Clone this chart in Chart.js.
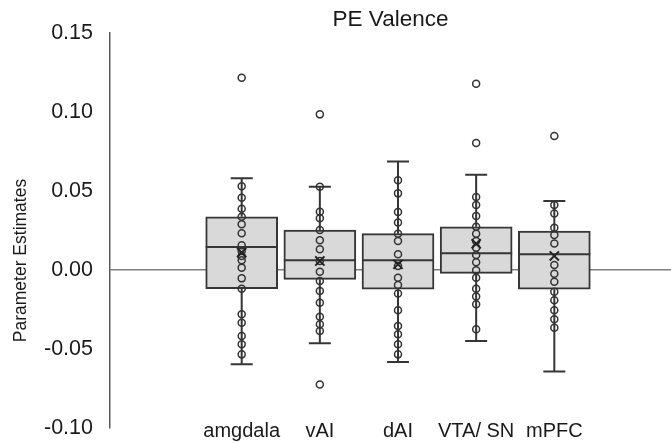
<!DOCTYPE html>
<html>
<head>
<meta charset="utf-8">
<script src="https://cdn.jsdelivr.net/npm/chart.js@4/dist/chart.umd.min.js"></script>
<style>
  html, body { margin: 0; padding: 0; background: #fff; overflow: hidden; }
  canvas { display: block; }
</style>
</head>
<body>
<canvas id="pe" width="671" height="443"></canvas>
<script>
const regions = ['amgdala', 'vAI', 'dAI', 'VTA/ SN', 'mPFC'];

// box summary per region
const q1 = [-0.0118, -0.0059, -0.0122, -0.0021, -0.0122];
const median = [0.0146, 0.0061, 0.0061, 0.0106, 0.0099];
const q3 = [0.0337, 0.0253, 0.0230, 0.0274, 0.0247];
const whiskerLow = [-0.0597, -0.0464, -0.0582, -0.0449, -0.0643];
const whiskerHigh = [0.0580, 0.0527, 0.0686, 0.0603, 0.0437];
const means = [0.0110, 0.0057, 0.0036, 0.0166, 0.0089];

// individual subject estimates
const amgdala = [0.1217, 0.0530, 0.0458, 0.0388, 0.0337, 0.0289, 0.0232, 0.0156, 0.0120, 0.0089,
  0.0061, 0.0015, -0.0053, -0.0118, -0.0280, -0.0334, -0.0418, -0.0470, -0.0534];
const vAI = [0.0985, 0.0527, 0.0369, 0.0327, 0.0253, 0.0188, 0.0131, 0.0057, -0.0011, -0.0070,
  -0.0133, -0.0207, -0.0296, -0.0344, -0.0386, -0.0724];
const dAI = [0.0568, 0.0485, 0.0367, 0.0300, 0.0230, 0.0184, 0.0099, 0.0025, -0.0049, -0.0095,
  -0.0148, -0.0255, -0.0354, -0.0407, -0.0470, -0.0534];
const vtaSn = [0.1179, 0.0804, 0.0462, 0.0411, 0.0342, 0.0274, 0.0230, 0.0184, 0.0141, 0.0095,
  0.0049, -0.0002, -0.0049, -0.0118, -0.0167, -0.0217, -0.0375];
const mPFC = [0.0848, 0.0411, 0.0357, 0.0268, 0.0222, 0.0167, 0.0032, -0.0023, -0.0074, -0.0137,
  -0.0192, -0.0255, -0.0312, -0.0365];
const subjects = [amgdala, vAI, dAI, vtaSn, mPFC];

const FONT = "'Liberation Sans', Arial, sans-serif";
const INK = '#1a1a1a';
const LINE = '#363636';

const boxData = regions.map((r, i) => ({ x: i + 1, y: [q1[i], q3[i]] }));
const pointData = [];
subjects.forEach((vals, i) => vals.forEach(v => pointData.push({ x: i + 1, y: v })));
const meanData = means.map((m, i) => ({ x: i + 1, y: m }));

// medians and whiskers, drawn right after the boxes
const boxExtras = {
  id: 'boxExtras',
  afterDatasetDraw(chart, args) {
    if (args.index !== 0) return;
    const { ctx, scales: { x, y } } = chart;
    const half = 36, cap = 11;
    ctx.save();
    ctx.strokeStyle = LINE;
    ctx.lineWidth = 2;
    regions.forEach((r, i) => {
      const cx = x.getPixelForValue(i + 1);
      ctx.beginPath();
      ctx.moveTo(cx - half, y.getPixelForValue(median[i]));
      ctx.lineTo(cx + half, y.getPixelForValue(median[i]));
      ctx.moveTo(cx, y.getPixelForValue(q3[i]));
      ctx.lineTo(cx, y.getPixelForValue(whiskerHigh[i]));
      ctx.moveTo(cx - cap, y.getPixelForValue(whiskerHigh[i]));
      ctx.lineTo(cx + cap, y.getPixelForValue(whiskerHigh[i]));
      ctx.moveTo(cx, y.getPixelForValue(q1[i]));
      ctx.lineTo(cx, y.getPixelForValue(whiskerLow[i]));
      ctx.moveTo(cx - cap, y.getPixelForValue(whiskerLow[i]));
      ctx.lineTo(cx + cap, y.getPixelForValue(whiskerLow[i]));
      ctx.stroke();
    });
    ctx.restore();
  }
};

// region names along the bottom and the rotated y title
const labels = {
  id: 'labels',
  afterDraw(chart) {
    const { ctx, chartArea, scales: { x } } = chart;
    ctx.save();
    ctx.fillStyle = INK;
    ctx.textAlign = 'center';
    ctx.textBaseline = 'middle';
    ctx.font = `20px ${FONT}`;
    regions.forEach((r, i) => {
      ctx.fillText(r, x.getPixelForValue(i + 1), chartArea.bottom + 3);
    });
    ctx.translate(21, (chartArea.top + chartArea.bottom) / 2 + 30);
    ctx.rotate(-Math.PI / 2);
    ctx.font = `17.5px ${FONT}`;
    ctx.fillText('Parameter Estimates', 0, 0);
    ctx.restore();
  }
};

new Chart(document.getElementById('pe'), {
  type: 'bar',
  data: {
    datasets: [{
      data: boxData,
      backgroundColor: '#d9d9d9',
      borderColor: LINE,
      borderWidth: 2,
      borderSkipped: false,
      barThickness: 72,
      order: 3
    }, {
      type: 'scatter',
      data: pointData,
      pointStyle: 'circle',
      pointRadius: 3.5,
      borderWidth: 1.5,
      borderColor: '#333333',
      backgroundColor: 'rgba(0,0,0,0)',
      order: 2
    }, {
      type: 'scatter',
      data: meanData,
      pointStyle: 'crossRot',
      pointRadius: 6.5,
      borderWidth: 2,
      borderColor: '#222222',
      order: 1
    }]
  },
  options: {
    responsive: false,
    animation: false,
    layout: { autoPadding: false, padding: { top: 0, right: 0, bottom: 15, left: 0 } },
    plugins: {
      legend: { display: false },
      tooltip: { enabled: false },
      title: {
        display: true,
        text: 'PE Valence',
        fullSize: false,
        color: INK,
        font: { family: FONT, size: 22.5, weight: 'normal' },
        padding: { top: 6, bottom: 0 }
      }
    },
    scales: {
      x: {
        type: 'linear',
        display: false,
        min: -0.685,
        max: 6.493,
        offset: false
      },
      y: {
        min: -0.1,
        max: 0.15,
        afterFit: scale => { scale.width = 110; },
        grid: {
          drawTicks: true,
          tickLength: 17,
          tickColor: 'rgba(0,0,0,0)',
          lineWidth: 1.5,
          color: c => Math.abs(c.tick.value) < 1e-9 ? '#7f7f7f' : 'rgba(0,0,0,0)'
        },
        border: { display: true, color: '#595959', width: 1.5 },
        ticks: {
          stepSize: 0.05,
          padding: 0,
          color: INK,
          font: { family: FONT, size: 21.5 },
          callback: v => v.toFixed(2)
        }
      }
    }
  },
  plugins: [boxExtras, labels]
});
</script>
</body>
</html>
